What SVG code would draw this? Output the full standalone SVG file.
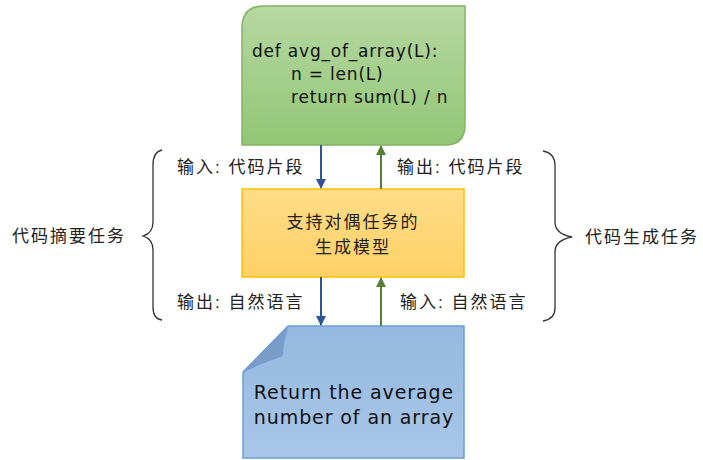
<svg xmlns="http://www.w3.org/2000/svg" width="703" height="460" viewBox="0 0 703 460">
<style>
.code{font-family:"Comic Sans MS","DejaVu Sans",sans-serif;font-size:17px;letter-spacing:0.8px;fill:#111}
.doc{font-family:"Comic Sans MS","DejaVu Sans",sans-serif;font-size:19px;letter-spacing:0.9px;fill:#111}
.cn{font-family:"Liberation Sans","Noto Sans CJK SC",sans-serif;font-size:17px;letter-spacing:2px;fill:#222}
.brace{fill:none;stroke:#333;stroke-width:1.3}
</style>
<defs>
<linearGradient id="gG" x1="0" y1="0" x2="0" y2="1"><stop offset="0" stop-color="#b6d8a2"/><stop offset="1" stop-color="#92c675"/></linearGradient>
<linearGradient id="gY" x1="0" y1="0" x2="0" y2="1"><stop offset="0" stop-color="#ffdc88"/><stop offset="1" stop-color="#ffd166"/></linearGradient>
<linearGradient id="gB" x1="0" y1="0" x2="0" y2="1"><stop offset="0" stop-color="#94b8e0"/><stop offset="1" stop-color="#a9c6e8"/></linearGradient>
<marker id="aB" viewBox="0 0 10 10" refX="9" refY="5" markerWidth="10" markerHeight="10" markerUnits="userSpaceOnUse" orient="auto"><path d="M0,0 L10,5 L0,10 Z" fill="#2f5597"/></marker>
<marker id="aG" viewBox="0 0 10 10" refX="9" refY="5" markerWidth="10" markerHeight="10" markerUnits="userSpaceOnUse" orient="auto"><path d="M0,0 L10,5 L0,10 Z" fill="#548235"/></marker>
</defs>
<g id="code-node">
<path d="M242,28 Q242,6 264,6 L465,6 L465,125 Q465,145 445,145 L242,145 Z" fill="url(#gG)" stroke="#82b366" stroke-width="1.5"/>
<text class="code" x="252" y="57">def avg_of_array(L):</text>
<text class="code" x="291" y="80">n = len(L)</text>
<text class="code" x="291" y="103">return sum(L) / n</text>
</g>
<g id="model-node">
<rect x="242" y="189" width="222" height="88" fill="url(#gY)" stroke="#ffc000" stroke-width="1.5"/>
<text class="cn" x="353" y="228" text-anchor="middle">支持对偶任务的</text>
<text class="cn" x="353" y="253" text-anchor="middle">生成模型</text>
</g>
<g id="nl-node">
<path d="M288,326 L464,326 L464,458 L243,458 L243,372 Z" fill="url(#gB)" stroke="#6c9fd6" stroke-width="1.5"/>
<path d="M288,326 Q283,340 282,356 Q262,362 243,372 Z" fill="#7a9cc6" stroke="#6c9fd6" stroke-width="1"/>
<text class="doc" x="354" y="399" text-anchor="middle">Return the average</text>
<text class="doc" x="354" y="424" text-anchor="middle">number of an array</text>
</g>
<g id="connectors">
<line x1="321" y1="145" x2="321" y2="188" stroke="#2f5597" stroke-width="2" marker-end="url(#aB)"/>
<line x1="381" y1="189" x2="381" y2="146" stroke="#548235" stroke-width="2" marker-end="url(#aG)"/>
<line x1="321" y1="277" x2="321" y2="325" stroke="#2f5597" stroke-width="2" marker-end="url(#aB)"/>
<line x1="381" y1="326" x2="381" y2="278" stroke="#548235" stroke-width="2" marker-end="url(#aG)"/>
</g>
<g id="labels">
<text class="cn" x="177" y="173">输入: 代码片段</text>
<text class="cn" x="397" y="173">输出: 代码片段</text>
<text class="cn" x="177" y="308">输出: 自然语言</text>
<text class="cn" x="400" y="308">输入: 自然语言</text>
</g>
<g id="left-brace">
<path class="brace" d="M162,150 Q153,152 153,165 L153,222 Q153,233 143,236 Q153,239 153,250 L153,307 Q153,319 162,320"/>
<text class="cn" x="12" y="242">代码摘要任务</text>
</g>
<g id="right-brace">
<path class="brace" d="M543,151 Q555,153 555,166 L555,222 Q555,234 572,237 Q555,240 555,252 L555,308 Q555,319 543,321"/>
<text class="cn" x="585" y="243">代码生成任务</text>
</g>
</svg>
